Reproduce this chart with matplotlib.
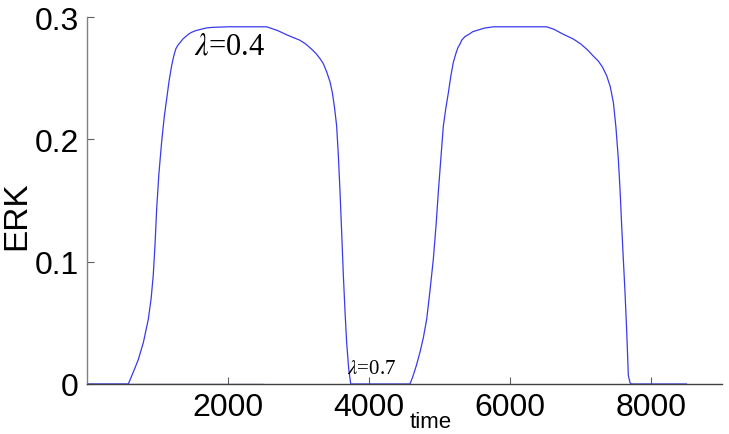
import matplotlib
matplotlib.use("Agg")
import matplotlib.pyplot as plt

plt.rcParams["mathtext.fontset"] = "stix"

# ERK trajectory
time = [0, 586, 630, 680, 728, 800, 870, 910, 940, 965, 988, 1020, 1059, 1095, 1130, 1165, 1200, 1230,
        1260, 1290, 1319, 1360, 1400, 1440, 1484, 1550, 1620, 1690, 1768,
        2000, 2300, 2548, 2700, 2850, 3020, 3100, 3180, 3250, 3304, 3350, 3400, 3446, 3480, 3510,
        3540, 3565, 3588, 3612, 3635, 3660, 3682, 3710, 3740,
        4000, 4300, 4580, 4620, 4670, 4722, 4770, 4817, 4865, 4911, 4950, 4982, 5020, 5053, 5090,
        5124, 5160, 5195, 5230, 5260, 5290, 5313, 5360, 5420, 5470, 5526, 5640,
        5763, 6000, 6300, 6518, 6620, 6750, 6896, 7000, 7100, 7180, 7250, 7310, 7369, 7420, 7464,
        7500, 7534, 7560, 7582, 7605, 7629, 7655, 7676, 7700, 7720, 8000, 8500]
erk = [0, 0, 0.006, 0.013, 0.020, 0.034, 0.053, 0.070, 0.089, 0.114, 0.143, 0.172, 0.198, 0.218,
       0.233, 0.248, 0.260, 0.268, 0.274, 0.277, 0.279, 0.282, 0.284, 0.286, 0.2875, 0.289,
       0.290, 0.291, 0.2915,
       0.292, 0.292, 0.292, 0.289, 0.285, 0.281, 0.278, 0.274, 0.270, 0.266, 0.262, 0.255, 0.247,
       0.238, 0.226, 0.211, 0.186, 0.157, 0.123, 0.089, 0.058, 0.034, 0.013, 0.0,
       0.0, 0.0, 0.0, 0.006, 0.015, 0.026, 0.038, 0.053, 0.077, 0.102, 0.130, 0.157, 0.186, 0.211,
       0.226, 0.238, 0.252, 0.263, 0.270, 0.275, 0.278, 0.281, 0.284, 0.286, 0.288, 0.289, 0.291,
       0.292, 0.292, 0.292, 0.292, 0.290, 0.286, 0.282, 0.278, 0.273, 0.268, 0.264, 0.259, 0.252,
       0.243, 0.230, 0.210, 0.184, 0.157, 0.129, 0.102, 0.075, 0.040, 0.007, 0.001, 0.0, 0.0, 0.0]

# second flat trace at zero
base_time = [0, 2500]
base_erk = [0, 0]

xticks = [2000, 4000, 6000, 8000]
yticks = [0, 0.1, 0.2, 0.3]
ytick_labels = ["0", "0.1", "0.2", "0.3"]

fig = plt.figure(figsize=(7.29, 4.35), dpi=100)
ax = fig.add_axes([0.1193, 0.115, 0.8707, 0.8436])

ax.plot(base_time, base_erk, color="#1a1aa0", lw=0.9)
ax.plot(time, erk, color="#3a3aee", lw=0.9)

ax.set_xlim(0, 9000)
ax.set_ylim(0, 0.3)
ax.set_xticks(xticks)
ax.set_xticklabels([str(t) for t in xticks])
ax.set_yticks(yticks)
ax.set_yticklabels(ytick_labels)

for s in ["top", "right"]:
    ax.spines[s].set_visible(False)
ax.spines["left"].set_color("#808080")
ax.spines["bottom"].set_color("#404040")
ax.spines["left"].set_linewidth(1.0)
ax.spines["bottom"].set_linewidth(1.0)

ax.tick_params(axis="both", direction="in", length=5, width=0.8, colors="#606060",
               labelcolor="black", labelsize=23, pad=6)
for lab in ax.get_xticklabels() + ax.get_yticklabels():
    lab.set_family("Liberation Sans")

ax.set_ylabel("ERK", fontsize=24, family="Liberation Sans")
ax.yaxis.set_label_coords(-0.086, 0.46)

ax.text(4580, -0.035, "time", fontsize=16, family="Liberation Sans", ha="left", va="baseline",
        transform=ax.transData, clip_on=False)

ax.text(1520, 0.276, r"$\lambda$=0.4", fontsize=22, family="Liberation Serif", ha="left", va="center")
ax.text(3680, 0.013, r"$\lambda$=0.7", fontsize=15, family="Liberation Serif", ha="left", va="center")

fig.savefig("out.png", dpi=100)
